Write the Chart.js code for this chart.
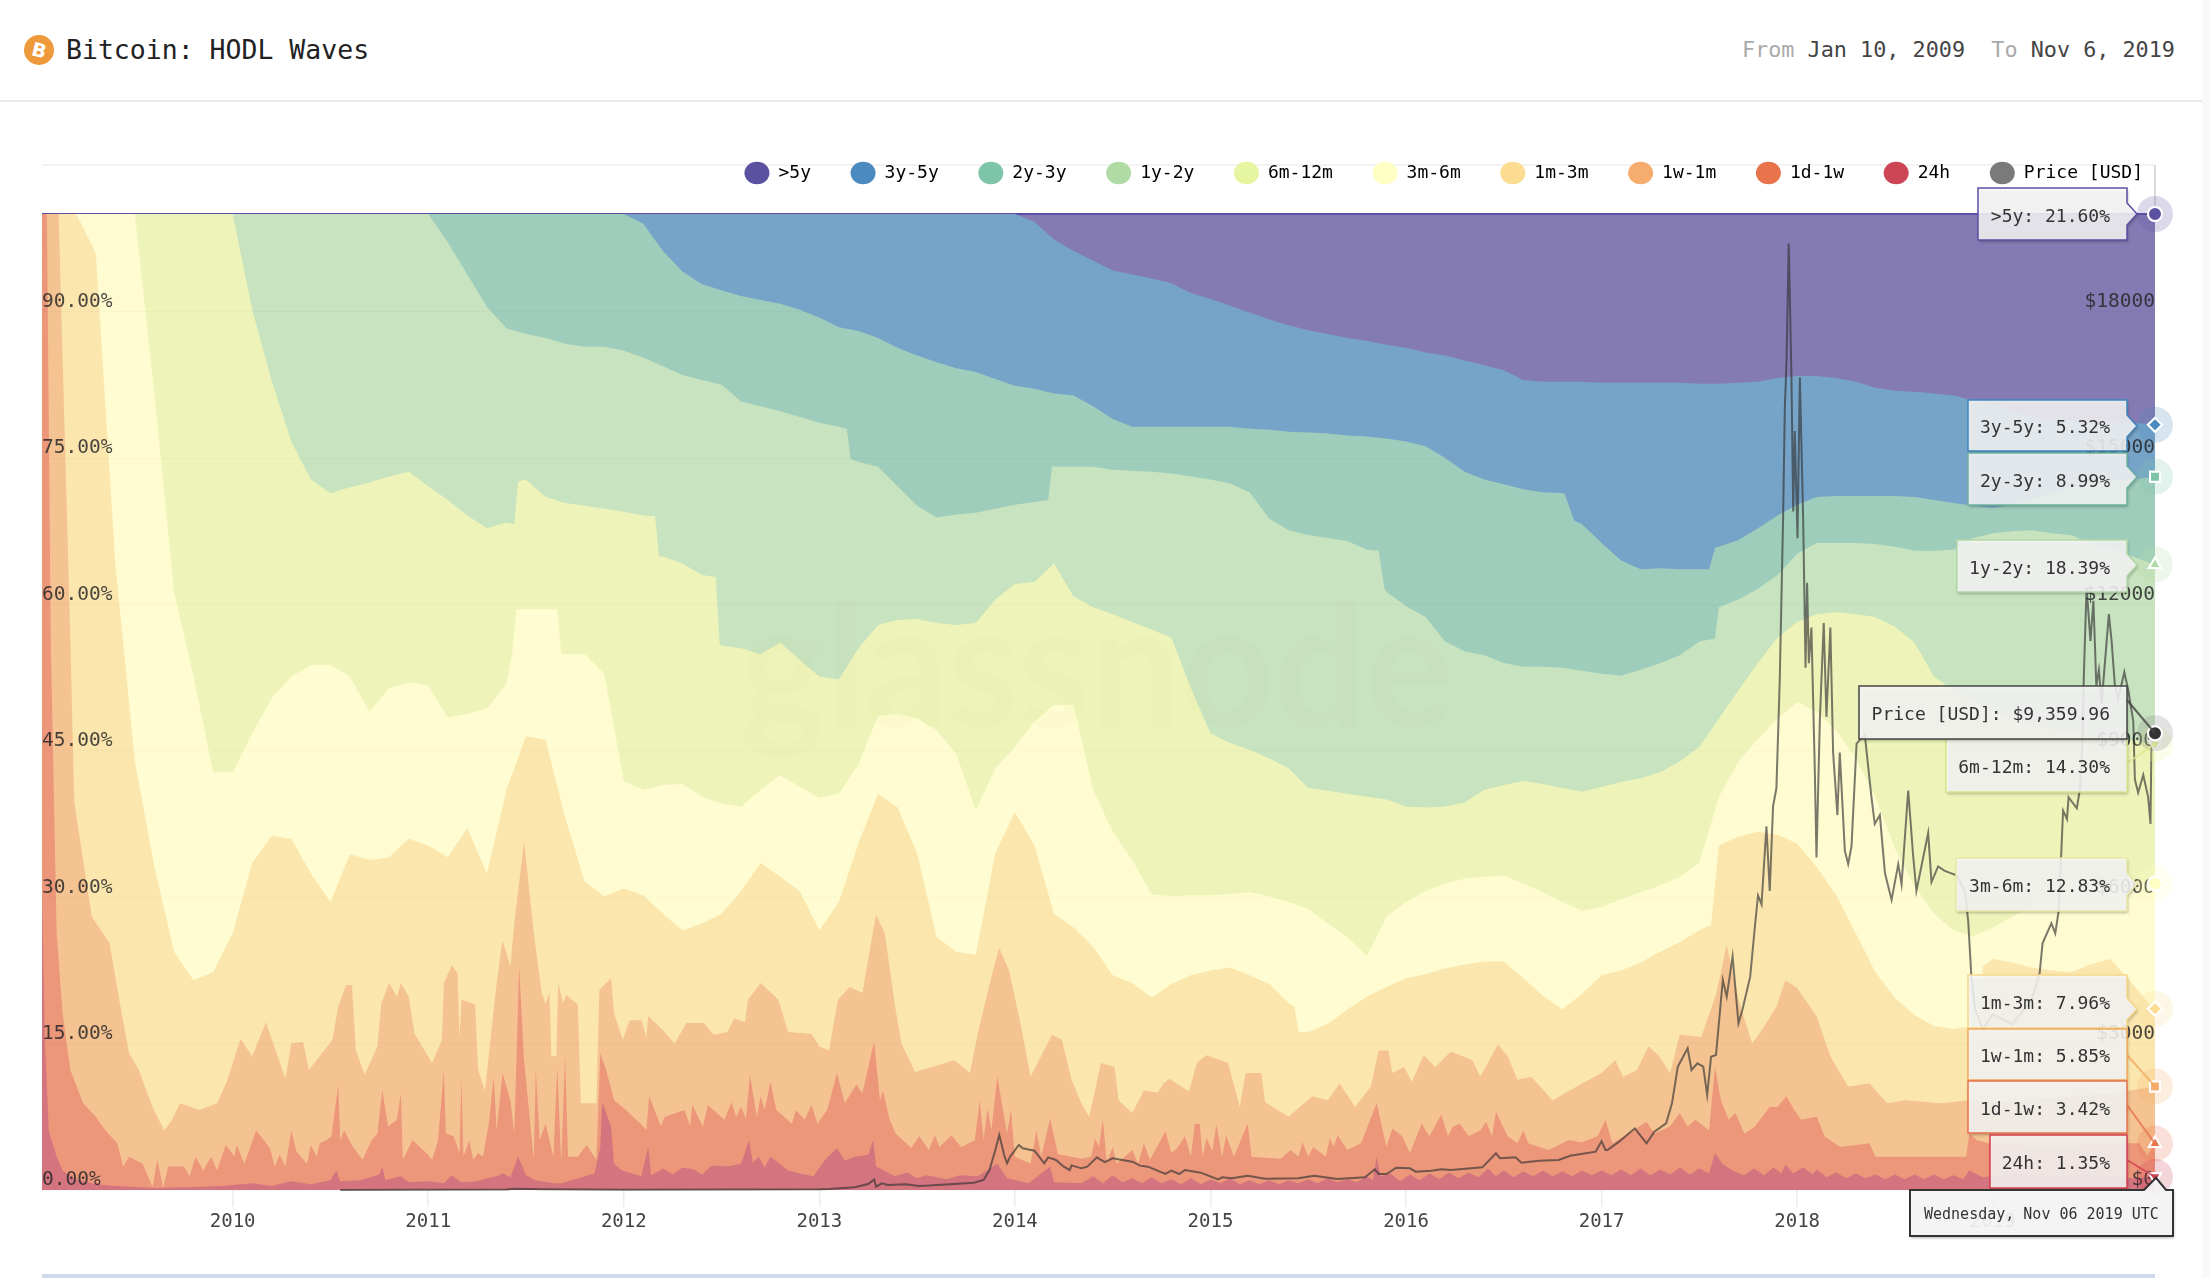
<!DOCTYPE html>
<html>
<head>
<meta charset="utf-8">
<title>Bitcoin: HODL Waves</title>
<script src="https://cdn.jsdelivr.net/npm/chart.js@4"></script>
<style>
  html, body { margin: 0; padding: 0; background: #fff; }
  body { width: 2210px; height: 1278px; position: relative; overflow: hidden; font-family: "DejaVu Sans Mono", monospace; }
  #chart-wrap { position: absolute; left: 0; top: 0; width: 2210px; height: 1278px; }
  .coin { position: absolute; left: 24px; top: 35px; width: 30px; height: 30px; border-radius: 50%; background: #ee9a3a; color: #fff; font: bold 19px "DejaVu Sans", sans-serif; line-height: 30px; text-align: center; }
  .coin span { display: inline-block; transform: rotate(14deg); }
  .title { position: absolute; left: 66px; top: 32px; font-size: 26.5px; line-height: 36px; color: #222; }
  .range { position: absolute; right: 35px; top: 34px; font-size: 21.8px; line-height: 32px; color: #444; white-space: pre; }
  .range i { font-style: normal; color: #aaa; }
  .head-line { position: absolute; left: 0; top: 100px; width: 2202px; height: 2px; background: #e9e9e9; }
  .legend-line { position: absolute; left: 42px; top: 164px; width: 2113px; height: 2px; background: #f3f3f3; }
  .nav-strip { position: absolute; left: 42px; top: 1274px; width: 2113px; height: 4px; background: #cfd9ea; }
  .scroll-strip { position: absolute; left: 2202px; top: 0; width: 8px; height: 1278px; background: #f8f9fa; }
</style>
</head>
<body>
<div class="coin"><span>B</span></div>
<div class="title">Bitcoin: HODL Waves</div>
<div class="range"><i>From</i> Jan 10, 2009  <i>To</i> Nov 6, 2019</div>
<div class="head-line"></div>
<div class="legend-line"></div>
<div class="scroll-strip"></div>
<div class="nav-strip"></div>
<div id="chart-wrap"><canvas id="wavesChart"></canvas></div>
<script>
const yearTicks = [2010, 2011, 2012, 2013, 2014, 2015, 2016, 2017, 2018, 2019];
const percentTicks = [0, 15, 30, 45, 60, 75, 90];
const priceTicks = [0, 3000, 6000, 9000, 12000, 15000, 18000];

const bandNames = [">5y", "3y-5y", "2y-3y", "1y-2y", "6m-12m", "3m-6m", "1m-3m", "1w-1m", "1d-1w", "24h"];
const tipNames = [...bandNames, "Price [USD]"];
const tipValues = ["21.60%", "5.32%", "8.99%", "18.39%", "14.30%", "12.83%", "7.96%", "5.85%", "3.42%", "1.35%", "$9,359.96"];
const tipDate = "Wednesday, Nov 06 2019 UTC";

// shared dates for the upper waves, decimal years
const waveDates = [
  2009.025, 2009.1, 2009.2, 2009.3, 2009.4, 2009.5, 2009.6, 2009.7, 2009.8, 2009.9,
  2010, 2010.1, 2010.2, 2010.3, 2010.4, 2010.5, 2010.6, 2010.7, 2010.8, 2010.9,
  2011, 2011.1, 2011.2, 2011.3, 2011.4, 2011.5, 2011.6, 2011.7, 2011.8, 2011.9,
  2012, 2012.1, 2012.2, 2012.3, 2012.4, 2012.5, 2012.6, 2012.7, 2012.8, 2012.9,
  2013, 2013.1, 2013.2, 2013.3, 2013.4, 2013.5, 2013.6, 2013.7, 2013.8, 2013.9,
  2014, 2014.1, 2014.2, 2014.3, 2014.4, 2014.5, 2014.6, 2014.7, 2014.8, 2014.9,
  2015, 2015.1, 2015.2, 2015.3, 2015.4, 2015.5, 2015.6, 2015.7, 2015.8, 2015.9,
  2016, 2016.1, 2016.2, 2016.3, 2016.4, 2016.5, 2016.6, 2016.7, 2016.8, 2016.9,
  2017, 2017.1, 2017.2, 2017.3, 2017.4, 2017.5, 2017.6, 2017.7, 2017.8, 2017.9,
  2018, 2018.1, 2018.2, 2018.3, 2018.4, 2018.5, 2018.6, 2018.7, 2018.8, 2018.9,
  2019, 2019.1, 2019.2, 2019.3, 2019.4, 2019.5, 2019.6, 2019.7, 2019.8, 2019.83,
];

// top edge of each band in percent
const top5y = [
  100, 100, 100, 100, 100, 100, 100, 100, 100, 100,
  100, 100, 100, 100, 100, 100, 100, 100, 100, 100,
  100, 100, 100, 100, 100, 100, 100, 100, 100, 100,
  100, 100, 100, 100, 100, 100, 100, 100, 100, 100,
  100, 100, 100, 100, 100, 100, 100, 100, 100, 100,
  100, 100, 100, 100, 100, 100, 100, 100, 100, 100,
  100, 100, 100, 100, 100, 100, 100, 100, 100, 100,
  100, 100, 100, 100, 100, 100, 100, 100, 100, 100,
  100, 100, 100, 100, 100, 100, 100, 100, 100, 100,
  100, 100, 100, 100, 100, 100, 100, 100, 100, 100,
  100, 100, 100, 100, 100, 100, 100, 100, 100, 100,
];
const top3y5y = [
  100, 100, 100, 100, 100, 100, 100, 100, 100, 100,
  100, 100, 100, 100, 100, 100, 100, 100, 100, 100,
  100, 100, 100, 100, 100, 100, 100, 100, 100, 100,
  100, 100, 100, 100, 100, 100, 100, 100, 100, 100,
  100, 100, 100, 100, 100, 100, 100, 100, 100, 100,
  100, 99.2, 97.4, 96.2, 95.2, 94.2, 93.8, 93.4, 92.9, 91.9,
  91.3, 90.6, 89.9, 89.2, 88.6, 88.1, 87.7, 87.3, 87, 86.6,
  86.3, 85.8, 85.5, 85, 84.5, 84, 83, 82.8, 82.8, 82.8,
  82.7, 82.7, 82.7, 82.7, 82.7, 82.6, 82.6, 82.7, 82.8, 83.2,
  83.4, 83.4, 83.2, 82.8, 82.2, 81.9, 81.8, 81.6, 81.4, 80.9,
  80.5, 79.9, 79.3, 79, 78.9, 78.8, 78.7, 78.6, 78.5, 78.4,
];
const top2y3y = [
  100, 100, 100, 100, 100, 100, 100, 100, 100, 100,
  100, 100, 100, 100, 100, 100, 100, 100, 100, 100,
  100, 100, 100, 100, 100, 100, 100, 100, 100, 100,
  100, 99, 96.2, 94.1, 92.8, 92.2, 91.6, 91.2, 90.8, 90.2,
  89.4, 88.4, 88, 87.3, 86.3, 85.5, 84.8, 84.2, 83.8, 83.1,
  82.4, 82.1, 81.6, 81.4, 80.3, 79, 78.2, 78.2, 78.2, 78.2,
  78.2, 78.2, 78, 77.9, 77.7, 77.6, 77.5, 77.3, 77.2, 77,
  76.7, 76.2, 75, 73.6, 72.8, 72.3, 71.8, 71.5, 71.4, 68.2,
  66.3, 64.5, 63.6, 63.7, 63.6, 63.6, 65.9, 66.6, 67.8, 69.1,
  70.2, 71, 71.1, 71.1, 71.1, 71.1, 71, 70.7, 70.4, 70.1,
  69.9, 70.2, 70.8, 71.4, 72, 72.4, 72.7, 72.8, 73, 73.08,
];
const top1y2y = [
  100, 100, 100, 100, 100, 100, 100, 100, 100, 100,
  100, 100, 100, 100, 100, 100, 100, 100, 100, 100,
  100, 97.1, 93.8, 90.5, 88.3, 87.7, 87.3, 86.7, 86.4, 86.4,
  86, 85.3, 84.4, 83.5, 83, 82.5, 80.8, 80.3, 79.8, 79.2,
  78.6, 78.2, 74.6, 74.1, 72.1, 70.1, 68.9, 69.2, 69.4, 69.8,
  70.2, 70.5, 74.1, 74.1, 74.1, 73.8, 73.7, 73.6, 73.4, 73.1,
  72.8, 72.4, 71.5, 68.8, 67.6, 67.1, 66.8, 66.5, 65.6, 61.3,
  59.8, 58.7, 56.2, 55.2, 54.8, 54, 53.6, 53.6, 53.5, 53.2,
  52.9, 52.7, 53.3, 54, 54.8, 56.2, 59.7, 60.5, 61.6, 63,
  65.2, 66.3, 66.3, 66.3, 66.2, 65.9, 65.5, 65.5, 65.6, 66.8,
  67.3, 67.5, 67.6, 67.3, 67.1, 66.3, 65.8, 65, 64.3, 64.09,
];
const top6m12m = [
  100, 100, 100, 100, 100, 100, 100, 100, 100, 100,
  100, 90.2, 82.9, 76.7, 72.8, 71.4, 72, 72.5, 73.1, 73.6,
  72.1, 70.7, 69.1, 67.8, 68.4, 72.8, 71, 70.4, 70.1, 69.8,
  69.5, 69.1, 64.9, 64.2, 63, 55.8, 55.5, 54.9, 56.1, 54.3,
  52.6, 52.3, 55.5, 57.9, 58.4, 58.5, 58.1, 57.9, 58.1, 60.5,
  62.1, 62.3, 64.2, 60.8, 59.7, 59, 58.2, 57.4, 56.6, 51.4,
  46.8, 45.8, 45.1, 44.2, 43.2, 41.2, 40.9, 40.6, 40.3, 40,
  39.3, 39.2, 39.3, 39.7, 41, 41.5, 41.9, 41.6, 41.2, 40.8,
  41.3, 41.8, 42.2, 42.8, 43.9, 45.4, 48.3, 51.2, 54, 56.6,
  58.2, 59, 59.2, 59, 58.7, 57.7, 56.1, 52.6, 51.2, 50.1,
  49.1, 48.3, 47.7, 47.3, 46.8, 46.5, 46.2, 46.1, 45.8, 45.7,
];
const top3m6m = [
  100, 100, 100, 100, 100, 100, 81.5, 61.3, 52.6, 42.8,
  42.8, 46.8, 50.4, 52.6, 53.8, 53.8, 52.6, 49, 51.4, 52,
  51.7, 48.4, 48.8, 49.3, 51.9, 59.5, 59.5, 54.9, 54.9, 52.9,
  41.9, 41, 41.5, 41.6, 40.3, 39.6, 39.3, 41, 42.5, 41.3,
  40.2, 40.6, 43.6, 48.6, 48.8, 48.3, 47.1, 44.7, 38.9, 43.2,
  45.4, 48, 49.7, 49.7, 41, 36.7, 33.8, 30.3, 30.1, 30.2,
  30.2, 30.3, 30.5, 30.1, 29.5, 28.8, 27.3, 25.9, 24, 28,
  29.5, 30.6, 31.4, 31.9, 32.1, 32.2, 31.4, 30.5, 29.5, 28.6,
  29, 29.8, 30.5, 31.2, 32.1, 33.5, 40.3, 43.9, 46.2, 48.3,
  50, 49, 47.1, 44.2, 40.3, 35, 31.2, 28.3, 26.6, 26,
  26.9, 28, 29.2, 30.1, 30.6, 31.1, 31.2, 31.4, 31.4, 31.4,
];
const top1m3m = [
  100, 100, 100, 96, 64.2, 43.9, 33.1, 24.4, 21.5, 22.3,
  26.3, 33.5, 36.3, 36, 32.4, 29.5, 34.4, 33.8, 34.1, 36,
  35.3, 34.1, 37.1, 32.4, 41, 46.5, 46.1, 38.2, 31.6, 30.1,
  30.9, 30.2, 28.3, 26.6, 27.3, 28.3, 30.6, 33.5, 32.1, 30.6,
  26.6, 29.5, 35.5, 40.6, 39.2, 34.5, 25.9, 24.4, 24.1, 34.5,
  38.7, 35.3, 28.3, 26.9, 24.9, 22, 21.2, 19.7, 21.1, 22,
  22.5, 22.8, 22, 21.1, 19.1, 16.2, 17, 18.5, 19.8, 20.8,
  21.7, 22.1, 22.7, 23.1, 23.4, 23.4, 21.7, 19.9, 18.5, 20.1,
  22, 22.5, 23.3, 24.4, 25.4, 26.6, 35.3, 36.2, 36.7, 36.4,
  35.5, 33.1, 30.2, 26.3, 22.3, 19.7, 17.9, 16.8, 16.5, 16.8,
  23.7, 23.3, 22.8, 22.5, 22.3, 23.1, 23.7, 21.5, 19.1, 18.57,
];

// sudden steps in the upper waves, [year, percent], merged into the shared dates
const steps2y3y = [[2016.81, 71.4], [2016.86, 68.6], [2017.55, 63.6], [2017.58, 65.8]];
const steps1y2y = [[2013.14, 78], [2013.16, 74.9], [2014.17, 70.7], [2014.19, 74.2], [2015.86, 65.5], [2015.89, 61.6], [2017.58, 56.5], [2017.6, 59.7]];
const steps6m12m = [[2011.44, 68.2], [2011.46, 72.6], [2012.16, 69], [2012.18, 64.9], [2012.47, 62.8], [2012.49, 56]];
const steps3m6m = [[2011.43, 55], [2011.45, 59.5], [2011.66, 59.5], [2011.68, 55]];
const steps1m3m = [[2015.43, 18.8], [2015.45, 16.2], [2017.56, 27.2], [2017.6, 35.3], [2018.93, 16.9], [2018.95, 22.9]];

// spikier bands keep their own [year, percent] points
const top1w1m = [
  [2009.025, 100], [2009.11, 100], [2009.17, 56.4], [2009.19, 39.7], [2009.28, 28], [2009.37, 25.3], [2009.42, 19.5], [2009.47, 14],
  [2009.52, 12.3], [2009.59, 8.5], [2009.65, 6.1], [2009.69, 7.2], [2009.73, 8.9], [2009.83, 8.2], [2009.92, 8.9], [2009.97, 11.1],
  [2010.04, 15.5], [2010.1, 13.7], [2010.17, 17.2], [2010.27, 11.4], [2010.3, 15], [2010.36, 15.2], [2010.39, 12.3], [2010.445, 13.7],
  [2010.51, 15.4], [2010.54, 18.8], [2010.58, 21], [2010.61, 21], [2010.63, 14.3], [2010.675, 11.8], [2010.74, 14.7], [2010.76, 19.1],
  [2010.8, 21.2], [2010.84, 19.8], [2010.86, 21.2], [2010.9, 19.8], [2010.93, 16], [2011.02, 13], [2011.07, 15.4], [2011.08, 21.2],
  [2011.12, 23], [2011.15, 22.2], [2011.16, 15.4], [2011.17, 19.5], [2011.24, 19], [2011.255, 12.3], [2011.29, 10.2], [2011.35, 21.2],
  [2011.38, 25.6], [2011.42, 22.9], [2011.44, 27.3], [2011.49, 35.7], [2011.54, 26.3], [2011.58, 20.2], [2011.6, 19.1], [2011.62, 20.2],
  [2011.63, 13.7], [2011.655, 13.7], [2011.665, 21.2], [2011.69, 19.1], [2011.705, 20], [2011.765, 19], [2011.78, 8.9], [2011.86, 8.9],
  [2011.875, 20.5], [2011.935, 21.7], [2011.95, 18.1], [2011.995, 15.4], [2012.03, 17.4], [2012.09, 17.4], [2012.115, 15.7], [2012.125, 17.8],
  [2012.19, 16.6], [2012.26, 15], [2012.32, 17.1], [2012.41, 17.1], [2012.46, 15.9], [2012.53, 16.2], [2012.565, 17.6], [2012.62, 17.2],
  [2012.635, 19.5], [2012.7, 21.2], [2012.79, 19.5], [2012.84, 16.2], [2012.96, 16], [2013, 14.7], [2013.05, 14.3], [2013.095, 19.5],
  [2013.155, 20.8], [2013.22, 20.2], [2013.29, 28.2], [2013.335, 26.3], [2013.385, 19.1], [2013.42, 15], [2013.49, 12.1], [2013.69, 13.3],
  [2013.77, 12], [2013.81, 16], [2013.88, 21.9], [2013.92, 24.8], [2013.97, 22.5], [2014.03, 16.9], [2014.08, 11.6], [2014.19, 15.9],
  [2014.24, 15.4], [2014.29, 11.3], [2014.34, 8.9], [2014.38, 7.5], [2014.44, 13], [2014.51, 12.6], [2014.53, 9.2], [2014.6, 7.9],
  [2014.66, 10.2], [2014.73, 10], [2014.76, 10.9], [2014.79, 11.4], [2014.89, 10.1], [2014.93, 13], [2014.98, 13.8], [2015.09, 13],
  [2015.15, 8.5], [2015.18, 12], [2015.26, 12], [2015.28, 9], [2015.4, 7.5], [2015.52, 9.6], [2015.6, 9.2], [2015.66, 10.9],
  [2015.74, 8.5], [2015.82, 10.6], [2015.86, 14.3], [2015.91, 14.3], [2015.93, 12], [2015.99, 12.6], [2016.03, 11.1], [2016.09, 13.8],
  [2016.15, 12.6], [2016.23, 14.2], [2016.34, 13.3], [2016.38, 11.6], [2016.47, 14.9], [2016.52, 13.7], [2016.57, 11.3], [2016.64, 11.6],
  [2016.75, 9.2], [2016.9, 10.9], [2017, 12], [2017.07, 13.3], [2017.11, 11.6], [2017.18, 12.3], [2017.24, 14.7], [2017.29, 13.8],
  [2017.35, 12], [2017.4, 15.9], [2017.51, 15.7], [2017.585, 20], [2017.64, 25.1], [2017.7, 19.5], [2017.77, 15], [2017.82, 16.4],
  [2017.895, 18.8], [2017.94, 21.5], [2018, 20.7], [2018.1, 17.8], [2018.17, 13.7], [2018.26, 10.6], [2018.37, 10.9], [2018.46, 8.9],
  [2018.55, 9.2], [2018.74, 8.9], [2018.88, 9.2], [2019, 9], [2019.2, 9.3], [2019.4, 9.6], [2019.6, 9.9], [2019.83, 10.61],
];
const top1d1w = [
  [2009.025, 100], [2009.05, 100], [2009.07, 56], [2009.1, 26.3], [2009.13, 18.1], [2009.17, 12.3], [2009.235, 8.9], [2009.3, 7.5],
  [2009.35, 6.1], [2009.41, 4.8], [2009.44, 2.4], [2009.47, 3.4], [2009.54, 2.7], [2009.59, 0.3], [2009.615, 3.1], [2009.645, 0.2],
  [2009.67, 2.4], [2009.75, 2.4], [2009.78, 1.4], [2009.81, 3.4], [2009.85, 2], [2009.89, 3.4], [2009.92, 2], [2009.965, 4.6],
  [2010.01, 3.4], [2010.02, 4.6], [2010.06, 2.7], [2010.12, 6.1], [2010.19, 4.3], [2010.215, 2.4], [2010.24, 3.6], [2010.27, 2.4],
  [2010.3, 6.1], [2010.325, 4], [2010.38, 2.7], [2010.4, 4.6], [2010.43, 3.4], [2010.445, 4.8], [2010.48, 5.1], [2010.505, 5.5],
  [2010.54, 10.8], [2010.55, 5.1], [2010.57, 6.1], [2010.615, 4.4], [2010.665, 3.1], [2010.71, 5.1], [2010.74, 5.8], [2010.765, 10.2],
  [2010.795, 6.5], [2010.84, 7.2], [2010.86, 9.9], [2010.87, 3.1], [2010.92, 5.1], [2010.99, 3.8], [2011.02, 3.1], [2011.05, 5.1],
  [2011.08, 12.3], [2011.09, 5.8], [2011.13, 5.5], [2011.16, 3.8], [2011.17, 11.4], [2011.18, 3.4], [2011.21, 5.1], [2011.23, 3.1],
  [2011.255, 3.8], [2011.28, 3.4], [2011.31, 6.8], [2011.335, 11.6], [2011.35, 6.1], [2011.38, 12], [2011.42, 9.2], [2011.44, 5.8],
  [2011.465, 22.9], [2011.49, 13.3], [2011.54, 3.1], [2011.55, 12.3], [2011.57, 5.1], [2011.6, 6.8], [2011.64, 3.4], [2011.66, 12.6],
  [2011.68, 2.7], [2011.7, 13.7], [2011.715, 3.4], [2011.765, 3.4], [2011.81, 4.6], [2011.86, 3.1], [2011.88, 14], [2011.91, 12.3],
  [2011.95, 9.2], [2012, 8.4], [2012.1, 6.5], [2012.115, 6.1], [2012.13, 9.6], [2012.19, 6.5], [2012.21, 7.5], [2012.31, 8.2],
  [2012.34, 6.5], [2012.35, 8.7], [2012.405, 6.5], [2012.43, 8.7], [2012.515, 7.2], [2012.55, 9], [2012.575, 7.5], [2012.6, 8.5],
  [2012.625, 7.3], [2012.645, 11.8], [2012.68, 7.5], [2012.7, 9.6], [2012.72, 8.2], [2012.75, 11.1], [2012.78, 8.2], [2012.86, 6.8],
  [2012.88, 8.2], [2012.925, 7.2], [2012.96, 8.7], [2012.99, 6.8], [2013.04, 8.2], [2013.09, 12], [2013.13, 8.9], [2013.19, 10.8],
  [2013.22, 9.9], [2013.28, 15.2], [2013.31, 9.2], [2013.325, 10.2], [2013.36, 7.2], [2013.39, 5.8], [2013.47, 4.3], [2013.51, 5.5],
  [2013.56, 4.1], [2013.59, 5.6], [2013.615, 4.4], [2013.675, 5.6], [2013.725, 4.4], [2013.795, 5.1], [2013.82, 9.2], [2013.84, 5.1],
  [2013.86, 8.4], [2013.88, 6.1], [2013.91, 11.6], [2013.96, 5.8], [2013.98, 8.2], [2014, 3.4], [2014.08, 2.7], [2014.11, 6.1],
  [2014.135, 3.4], [2014.18, 7.3], [2014.22, 3.7], [2014.34, 3.2], [2014.39, 3.4], [2014.41, 5.3], [2014.43, 4.4], [2014.45, 7.2],
  [2014.47, 2.8], [2014.5, 4.4], [2014.52, 2.7], [2014.6, 4.1], [2014.63, 2.7], [2014.66, 4.8], [2014.69, 3.1], [2014.77, 6],
  [2014.8, 3.8], [2014.83, 4.3], [2014.87, 5.5], [2014.9, 3.4], [2014.92, 6.8], [2014.945, 6.8], [2014.96, 3.4], [2014.98, 5.3],
  [2015.01, 4], [2015.03, 6.7], [2015.06, 3.4], [2015.08, 5.6], [2015.12, 3.4], [2015.19, 6.8], [2015.21, 3.4], [2015.36, 3.2],
  [2015.41, 4.1], [2015.45, 3.4], [2015.47, 4.9], [2015.5, 3.4], [2015.525, 4.4], [2015.59, 3.4], [2015.61, 5.3], [2015.63, 4.4],
  [2015.65, 5.6], [2015.7, 4.1], [2015.77, 4.8], [2015.85, 8.9], [2015.9, 4.4], [2015.93, 6.3], [2015.98, 5.5], [2016.02, 3.8],
  [2016.08, 6.8], [2016.12, 5.5], [2016.18, 7.7], [2016.215, 5.5], [2016.24, 6.5], [2016.275, 6.8], [2016.32, 5.5], [2016.38, 6.1],
  [2016.41, 7], [2016.44, 5.5], [2016.46, 8], [2016.52, 5.5], [2016.57, 4.8], [2016.6, 6.1], [2016.625, 4.8], [2016.73, 4.1],
  [2016.83, 5.1], [2016.9, 4.9], [2016.98, 5.5], [2017.02, 7.2], [2017.055, 4.8], [2017.13, 5.7], [2017.23, 7], [2017.27, 5.8],
  [2017.35, 6.5], [2017.4, 7.9], [2017.44, 6.5], [2017.48, 7.2], [2017.55, 6.1], [2017.58, 12.6], [2017.61, 9.2], [2017.65, 7.2],
  [2017.685, 7.9], [2017.73, 5.8], [2017.785, 6.5], [2017.81, 7.2], [2017.86, 8.5], [2017.9, 8.5], [2017.945, 9.6], [2017.985, 8.2],
  [2018.02, 7.2], [2018.1, 7.5], [2018.14, 5.5], [2018.22, 4.4], [2018.37, 4.8], [2018.4, 3.4], [2018.55, 3.4], [2018.74, 3.4],
  [2018.865, 3.4], [2018.88, 5.8], [2018.92, 5.1], [2018.98, 4.8], [2019.2, 4.5], [2019.4, 4.5], [2019.6, 4.8], [2019.75, 4.8],
  [2019.79, 3.5], [2019.83, 4.76],
];
const top24h = [
  [2009.025, 30], [2009.04, 15], [2009.06, 6], [2009.1, 3.4], [2009.13, 2], [2009.2, 1.1], [2009.3, 0.6], [2009.4, 0.4],
  [2009.6, 0.2], [2009.8, 0.3], [2009.95, 0.4], [2010.1, 0.7], [2010.2, 0.4], [2010.3, 0.9], [2010.4, 0.6], [2010.5, 1],
  [2010.53, 2], [2010.55, 0.9], [2010.65, 1], [2010.75, 1.6], [2010.765, 2.4], [2010.78, 1], [2010.86, 1.4], [2010.9, 0.8],
  [2011, 0.9], [2011.08, 0.7], [2011.12, 1.5], [2011.17, 0.8], [2011.25, 0.9], [2011.3, 1.2], [2011.35, 1.4], [2011.38, 1.7],
  [2011.42, 1.3], [2011.46, 3.4], [2011.5, 1.5], [2011.55, 1], [2011.64, 0.7], [2011.68, 0.7], [2011.85, 1.7], [2011.88, 4.4],
  [2011.89, 9], [2011.935, 6.5], [2011.95, 2.7], [2011.99, 2], [2012.09, 1.4], [2012.125, 4.4], [2012.14, 1.5], [2012.2, 2.2],
  [2012.25, 1.6], [2012.3, 2.3], [2012.36, 2.1], [2012.4, 1.6], [2012.45, 2.5], [2012.53, 2.4], [2012.6, 2.7], [2012.64, 5.1],
  [2012.66, 2.8], [2012.69, 3.4], [2012.72, 2.3], [2012.75, 3.4], [2012.84, 2], [2012.9, 1.7], [2012.97, 1.4], [2013.03, 3.1],
  [2013.09, 4.3], [2013.13, 3], [2013.18, 3.4], [2013.25, 3.6], [2013.275, 5.1], [2013.29, 2.4], [2013.35, 1.8], [2013.385, 1.4],
  [2013.45, 1.8], [2013.5, 1.2], [2013.55, 1.5], [2013.65, 1.1], [2013.72, 1.5], [2013.81, 1.4], [2013.91, 2.7], [2013.96, 1.2],
  [2014.07, 0.7], [2014.18, 2.4], [2014.2, 0.8], [2014.34, 0.7], [2014.4, 1.4], [2014.45, 0.7], [2014.5, 1.5], [2014.55, 0.8],
  [2014.6, 1.2], [2014.65, 0.7], [2014.7, 1.3], [2014.75, 0.7], [2014.8, 1.1], [2014.85, 0.6], [2014.9, 1.2], [2014.95, 0.6],
  [2015, 1.1], [2015.05, 0.7], [2015.1, 1.2], [2015.15, 0.6], [2015.2, 1], [2015.25, 0.6], [2015.3, 1], [2015.35, 0.6],
  [2015.4, 1], [2015.45, 0.7], [2015.5, 1.1], [2015.55, 0.7], [2015.6, 1.2], [2015.65, 0.8], [2015.7, 1.1], [2015.75, 0.8],
  [2015.8, 1.4], [2015.83, 1], [2015.85, 3.4], [2015.87, 1.4], [2015.92, 1.7], [2015.97, 0.9], [2016.02, 1.6], [2016.07, 1],
  [2016.12, 1.7], [2016.17, 1.1], [2016.22, 1.8], [2016.27, 1.2], [2016.32, 1.8], [2016.37, 1.3], [2016.42, 2.2], [2016.46, 1.4],
  [2016.5, 2], [2016.55, 1.3], [2016.6, 1.9], [2016.65, 1.4], [2016.7, 2], [2016.75, 1.4], [2016.8, 1.9], [2016.85, 1.4],
  [2016.9, 2], [2016.95, 1.5], [2017, 2], [2017.05, 1.5], [2017.1, 2.1], [2017.15, 1.5], [2017.2, 2.2], [2017.25, 1.5],
  [2017.3, 2.1], [2017.35, 1.6], [2017.4, 2.3], [2017.45, 1.6], [2017.5, 2.2], [2017.55, 1.7], [2017.58, 3.8], [2017.62, 2.6],
  [2017.68, 1.9], [2017.73, 1.5], [2017.78, 2.2], [2017.83, 1.5], [2017.88, 2.3], [2017.92, 1.7], [2017.94, 2.6], [2017.98, 1.7],
  [2018.03, 2.3], [2018.08, 1.6], [2018.1, 2.1], [2018.15, 1.3], [2018.2, 1.8], [2018.25, 1.2], [2018.3, 1.7], [2018.35, 1.2],
  [2018.4, 1.6], [2018.45, 1.1], [2018.5, 1.6], [2018.55, 1.1], [2018.6, 1.6], [2018.65, 1.1], [2018.7, 1.6], [2018.75, 1.1],
  [2018.8, 1.5], [2018.85, 1.1], [2018.88, 2], [2018.95, 1.3], [2019.1, 1.7], [2019.3, 1.3], [2019.5, 1.6], [2019.7, 1.2],
  [2019.83, 1.35],
];

// price line, [year, USD]
const priceUsd = [
  [2010.55, 0], [2011.4, 10], [2011.44, 25], [2011.6, 15], [2012, 5], [2012.6, 10], [2013, 13], [2013.05, 20],
  [2013.18, 55], [2013.25, 123], [2013.28, 218], [2013.29, 68], [2013.32, 137], [2013.35, 102], [2013.44, 116], [2013.51, 82],
  [2013.56, 90], [2013.69, 123], [2013.79, 150], [2013.84, 205], [2013.87, 410], [2013.9, 820], [2013.92, 1127], [2013.935, 888],
  [2013.945, 717], [2013.96, 546], [2013.975, 680], [2014.02, 922], [2014.04, 854], [2014.1, 806], [2014.15, 546], [2014.17, 669],
  [2014.21, 615], [2014.25, 478], [2014.28, 410], [2014.29, 505], [2014.34, 444], [2014.37, 478], [2014.42, 669], [2014.44, 615],
  [2014.46, 570], [2014.5, 649], [2014.6, 580], [2014.64, 499], [2014.68, 478], [2014.77, 328], [2014.8, 396], [2014.84, 328],
  [2014.87, 410], [2014.95, 355], [2015.04, 218], [2015.06, 260], [2015.11, 240], [2015.19, 294], [2015.28, 232], [2015.45, 239],
  [2015.53, 294], [2015.65, 225], [2015.79, 260], [2015.84, 423], [2015.86, 328], [2015.9, 328], [2015.95, 458], [2016.02, 444],
  [2016.05, 376], [2016.13, 396], [2016.18, 423], [2016.23, 410], [2016.39, 464], [2016.41, 546], [2016.46, 751], [2016.48, 649],
  [2016.56, 669], [2016.59, 560], [2016.68, 601], [2016.78, 615], [2016.84, 703], [2016.97, 785], [2017, 1000], [2017.02, 820],
  [2017.03, 820], [2017.09, 990], [2017.17, 1264], [2017.23, 956], [2017.27, 1195], [2017.33, 1366], [2017.36, 1776], [2017.39, 2527],
  [2017.44, 2903], [2017.46, 2459], [2017.49, 2595], [2017.52, 2527], [2017.54, 1947], [2017.56, 2732], [2017.585, 2766], [2017.62, 4303],
  [2017.64, 3961], [2017.67, 4781], [2017.7, 3415], [2017.72, 3688], [2017.76, 4371], [2017.784, 5396], [2017.8, 6037], [2017.818, 5853],
  [2017.843, 7455], [2017.86, 6128], [2017.877, 7866], [2017.894, 8232], [2017.911, 10429], [2017.928, 13722], [2017.937, 16010], [2017.946, 17016],
  [2017.957, 19395], [2017.971, 16650], [2017.98, 13905], [2017.988, 15552], [2018.002, 13356], [2018.014, 16650], [2018.031, 13722], [2018.043, 10703],
  [2018.051, 12442], [2018.06, 10795], [2018.073, 11526], [2018.09, 8690], [2018.099, 6814], [2018.116, 9605], [2018.136, 11618], [2018.15, 9696],
  [2018.17, 11526], [2018.184, 8965], [2018.206, 7683], [2018.218, 8965], [2018.244, 6951], [2018.261, 6677], [2018.278, 7043], [2018.304, 9147],
  [2018.346, 9330], [2018.38, 8049], [2018.397, 7500], [2018.423, 7683], [2018.449, 6494], [2018.483, 5945], [2018.517, 6677], [2018.534, 6265],
  [2018.568, 8187], [2018.593, 6860], [2018.61, 6128], [2018.67, 7317], [2018.687, 6311], [2018.721, 6631], [2018.755, 6540], [2018.815, 6448],
  [2018.858, 6128], [2018.875, 5500], [2018.89, 4440], [2018.91, 3700], [2018.95, 3300], [2019, 3600], [2019.1, 3400], [2019.2, 3900],
  [2019.24, 4440], [2019.255, 5054], [2019.3, 5464], [2019.32, 5259], [2019.338, 5737], [2019.36, 7775], [2019.38, 7600], [2019.388, 8049],
  [2019.43, 7821], [2019.447, 8232], [2019.46, 9300], [2019.466, 10520], [2019.48, 12350], [2019.5, 11252], [2019.515, 12075], [2019.53, 10337],
  [2019.543, 10657], [2019.557, 9971], [2019.594, 11801], [2019.608, 11252], [2019.625, 10337], [2019.642, 10062], [2019.673, 10611], [2019.693, 10245],
  [2019.719, 9605], [2019.727, 8416], [2019.744, 8141], [2019.77, 8507], [2019.795, 8049], [2019.807, 7500], [2019.812, 9239], [2019.83, 9359.96],
];

const bandColors = ["#847bb4", "#76a4c9", "#9fcdbb", "#c8e3bf", "#eef4b9", "#fefcd0", "#fbe7ae", "#f4c391", "#ec967a", "#d4747f"];
const legendColors = ["#5b51a1", "#4a8abf", "#7dc4a9", "#b0dba5", "#e6f59f", "#ffffc4", "#fbdc90", "#f5ac6e", "#e8744c", "#cd4655", "#7a7a7a"];
const tipLineColors = ["#5e4fa2", "#3f86bb", "#6fb3a0", "#b4d8a8", "#dbe58f", "#e8e8a8", "#f5d88a", "#f2a95c", "#e8744c", "#d53e4f", "#444444"];
const markerStyles = ["circle", "rectRot", "rect", "triangle", "triangle", "circle", "rectRot", "rect", "triangle", "triangle", "circle"];
const markerTurns = [0, 0, 0, 0, 180, 0, 0, 0, 0, 180, 0];

const monoFont = "DejaVu Sans Mono";

function pairsToPoints(pairs) {
  return pairs.map(([x, y]) => ({ x, y }));
}

function zipDates(values, steps = []) {
  return values
    .map((y, i) => ({ x: waveDates[i], y }))
    .concat(pairsToPoints(steps))
    .sort((a, b) => a.x - b.x);
}

const bandPoints = [
  zipDates(top5y), zipDates(top3y5y), zipDates(top2y3y, steps2y3y), zipDates(top1y2y, steps1y2y), zipDates(top6m12m, steps6m12m),
  zipDates(top3m6m, steps3m6m), zipDates(top1m3m, steps1m3m), pairsToPoints(top1w1m), pairsToPoints(top1d1w), pairsToPoints(top24h),
];

function lastPointRadius(ctx) {
  return ctx.dataIndex === ctx.dataset.data.length - 1 ? 7 : 0;
}

const datasets = bandPoints.map((points, i) => ({
  label: bandNames[i],
  data: points,
  yAxisID: "yPct",
  order: 10 - i,
  fill: "origin",
  backgroundColor: bandColors[i],
  borderColor: i === 0 ? "#5e4fa2" : "rgba(0,0,0,0)",
  borderWidth: i === 0 ? 2 : 0,
  tension: 0,
  clip: false,
  pointRadius: lastPointRadius,
  pointHoverRadius: 0,
  pointBackgroundColor: legendColors[i],
  pointBorderColor: "#fff",
  pointBorderWidth: 2,
  pointStyle: markerStyles[i],
  pointRotation: markerTurns[i],
}));

datasets.push({
  label: "Price [USD]",
  data: pairsToPoints(priceUsd),
  yAxisID: "yUsd",
  order: 0,
  fill: false,
  borderColor: "rgba(50,50,50,0.65)",
  borderWidth: 2,
  tension: 0,
  clip: false,
  pointRadius: lastPointRadius,
  pointHoverRadius: 0,
  pointBackgroundColor: "#333",
  pointBorderColor: "#fff",
  pointBorderWidth: 2,
  pointStyle: "circle",
});

// callout boxes on the right, in draw order
const tipBoxes = [
  { series: 0, left: 1978, top: 188, bottom: 240, tipX: 2137, tipY: 214 },
  { series: 1, left: 1968, top: 400, bottom: 451, tipX: 2137, tipY: 426 },
  { series: 2, left: 1968, top: 453, bottom: 505, tipX: 2137, tipY: 477 },
  { series: 3, left: 1957, top: 540, bottom: 592, tipX: 2137, tipY: 565 },
  { series: 4, left: 1946, top: 739, bottom: 792, leaderFrom: 763 },
  { series: 10, left: 1859, top: 686, bottom: 739, leaderFrom: 700 },
  { series: 5, left: 1956, top: 858, bottom: 911, tipX: 2137, tipY: 884 },
  { series: 6, left: 1968, top: 975, bottom: 1028, tipX: 2137, tipY: 1009 },
  { series: 7, left: 1968, top: 1029, bottom: 1080, leaderFrom: 1055 },
  { series: 8, left: 1968, top: 1081, bottom: 1133, leaderFrom: 1105 },
  { series: 9, left: 1990, top: 1135, bottom: 1188, leaderFrom: 1160 },
];
const tipRight = 2127;
const tipFill = "rgba(250,250,250,0.85)";

function drawTipBox(ctx, chart, box) {
  const color = tipLineColors[box.series];
  const meta = chart.getDatasetMeta(box.series);
  const marker = meta.data[meta.data.length - 1];
  if (box.leaderFrom) {
    ctx.save();
    ctx.strokeStyle = color;
    ctx.lineWidth = 2;
    ctx.globalAlpha = 0.8;
    ctx.beginPath();
    ctx.moveTo(tipRight, box.leaderFrom);
    ctx.lineTo(marker.x, marker.y);
    ctx.stroke();
    ctx.restore();
  }
  ctx.save();
  ctx.beginPath();
  ctx.moveTo(box.left, box.top);
  ctx.lineTo(tipRight, box.top);
  if (box.tipX) {
    ctx.lineTo(tipRight, box.tipY - 11);
    ctx.lineTo(box.tipX, box.tipY);
    ctx.lineTo(tipRight, box.tipY + 11);
  }
  ctx.lineTo(tipRight, box.bottom);
  ctx.lineTo(box.left, box.bottom);
  ctx.closePath();
  ctx.shadowColor = "rgba(0,0,0,0.3)";
  ctx.shadowBlur = 3;
  ctx.shadowOffsetX = 1;
  ctx.shadowOffsetY = 2;
  ctx.fillStyle = tipFill;
  ctx.fill();
  ctx.shadowColor = "transparent";
  ctx.strokeStyle = color;
  ctx.lineWidth = 1.5;
  ctx.stroke();
  ctx.fillStyle = "#333";
  ctx.font = `18px "${monoFont}"`;
  ctx.textAlign = "right";
  ctx.textBaseline = "middle";
  ctx.fillText(`${tipNames[box.series]}: ${tipValues[box.series]}`, 2110, (box.top + box.bottom) / 2 + 3);
  ctx.restore();
}

const overlayPlugin = {
  id: "overlay",
  afterLayout(chart) {
    // legend sits higher and further right than the layout box gives it
    chart.legend.top -= 22;
    chart.legend.right += 27.6;
  },
  afterDatasetsDraw(chart) {
    const ctx = chart.ctx;
    const area = chart.chartArea;
    ctx.save();
    ctx.font = `bold 172px "Lato"`;
    ctx.textAlign = "center";
    ctx.textBaseline = "middle";
    ctx.fillStyle = "rgba(60,60,40,0.012)";
    ctx.fillText("glassnode", 1096, 672, 712);
    ctx.restore();
    ctx.save();
    ctx.strokeStyle = "#cfcfcf";
    ctx.lineWidth = 1.5;
    ctx.beginPath();
    ctx.moveTo(area.right, 165);
    ctx.lineTo(area.right, area.top);
    ctx.stroke();
    ctx.restore();
  },
  afterDraw(chart) {
    const ctx = chart.ctx;
    tipNames.forEach((name, i) => {
      const meta = chart.getDatasetMeta(i);
      const marker = meta.data[meta.data.length - 1];
      ctx.save();
      ctx.globalAlpha = 0.22;
      ctx.fillStyle = legendColors[i];
      ctx.beginPath();
      ctx.arc(marker.x, marker.y, 18, 0, Math.PI * 2);
      ctx.fill();
      ctx.restore();
      marker.draw(ctx);
    });
    tipBoxes.forEach((box) => drawTipBox(ctx, chart, box));

    const priceMeta = chart.getDatasetMeta(10);
    const tipX = priceMeta.data[priceMeta.data.length - 1].x;
    const tipY = chart.getDatasetMeta(9).data[chart.getDatasetMeta(9).data.length - 1].y;
    ctx.save();
    ctx.beginPath();
    ctx.moveTo(1910, 1190);
    ctx.lineTo(tipX - 11, 1190);
    ctx.lineTo(tipX + 1, tipY + 1);
    ctx.lineTo(tipX + 11, 1190);
    ctx.lineTo(2173, 1190);
    ctx.lineTo(2173, 1236);
    ctx.lineTo(1910, 1236);
    ctx.closePath();
    ctx.shadowColor = "rgba(0,0,0,0.3)";
    ctx.shadowBlur = 3;
    ctx.shadowOffsetX = 1;
    ctx.shadowOffsetY = 2;
    ctx.fillStyle = "rgba(249,249,249,0.92)";
    ctx.fill();
    ctx.shadowColor = "transparent";
    ctx.strokeStyle = "#333";
    ctx.lineWidth = 2;
    ctx.stroke();
    ctx.fillStyle = "#333";
    ctx.font = `15px "${monoFont}"`;
    ctx.textAlign = "left";
    ctx.textBaseline = "middle";
    ctx.fillText(tipDate, 1924, 1215);
    ctx.restore();
  },
};

const yLabelColor = "rgba(40,40,40,0.85)";

new Chart(document.getElementById("wavesChart"), {
  type: "line",
  data: { datasets },
  plugins: [overlayPlugin],
  options: {
    responsive: true,
    maintainAspectRatio: false,
    animation: false,
    events: [],
    layout: { padding: { left: 42, right: 55, top: 146.4, bottom: 28 } },
    plugins: {
      tooltip: { enabled: false },
      legend: {
        position: "top",
        align: "end",
        labels: {
          usePointStyle: true,
          boxHeight: 16,
          pointStyleWidth: 25,
          padding: 39.6,
          color: "#333",
          font: { family: monoFont, size: 18 },
          generateLabels: (chart) =>
            chart.data.datasets.map((d, i) => ({
              text: d.label,
              fillStyle: legendColors[i],
              strokeStyle: legendColors[i],
              lineWidth: 0,
              pointStyle: "circle",
              datasetIndex: i,
            })),
        },
      },
    },
    scales: {
      x: {
        type: "linear",
        min: 2009.025,
        max: 2019.83,
        afterBuildTicks: (axis) => { axis.ticks = yearTicks.map((value) => ({ value })); },
        afterFit: (axis) => { axis.height = 60; },
        border: { display: false },
        grid: { drawOnChartArea: false, tickLength: 17, color: "#ececec", lineWidth: 1.5 },
        ticks: {
          autoSkip: false,
          maxRotation: 0,
          padding: 4,
          color: "#444",
          font: { family: monoFont, size: 19 },
          callback: (v) => String(v),
        },
      },
      yPct: {
        position: "left",
        min: 0,
        max: 100,
        afterBuildTicks: (axis) => { axis.ticks = percentTicks.map((value) => ({ value })); },
        afterFit: (axis) => { axis.width = 0; },
        border: { display: false },
        grid: { z: 1, drawTicks: false, color: "rgba(0,0,0,0.025)" },
        ticks: {
          mirror: true,
          padding: 0,
          z: 2,
          align: "end",
          color: yLabelColor,
          font: { family: monoFont, size: 19.5 },
          callback: (v) => v.toFixed(2) + "%",
        },
      },
      yUsd: {
        position: "right",
        min: 0,
        max: 20000,
        afterBuildTicks: (axis) => { axis.ticks = priceTicks.map((value) => ({ value })); },
        afterFit: (axis) => { axis.width = 0; },
        border: { display: false },
        grid: { display: false, drawTicks: false },
        ticks: {
          mirror: true,
          padding: 0,
          z: 2,
          align: "end",
          color: yLabelColor,
          font: { family: monoFont, size: 19.5 },
          callback: (v) => "$" + v,
        },
      },
    },
  },
});
</script>
</body>
</html>
